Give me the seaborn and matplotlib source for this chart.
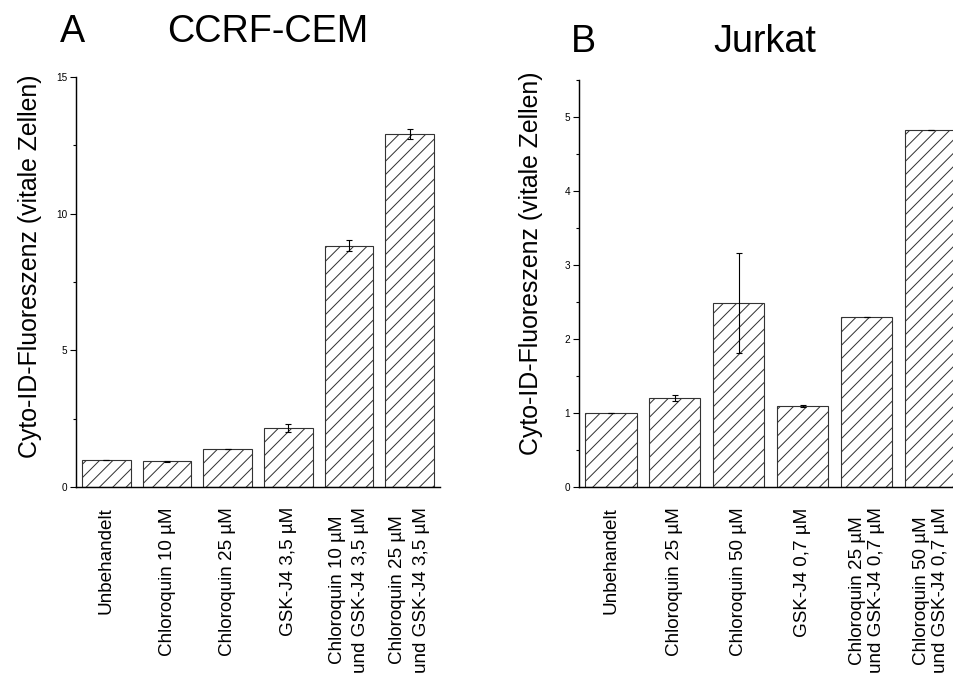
import matplotlib
matplotlib.use("Agg")
import matplotlib.pyplot as plt
import seaborn as sns
import pandas as pd
from matplotlib.ticker import MultipleLocator

sns.set_theme(style="white")
plt.rcParams['font.family'] = ['Liberation Sans', 'DejaVu Sans']
plt.rcParams['hatch.linewidth'] = 0.9
for k in ['text.color', 'axes.labelcolor', 'xtick.color', 'ytick.color']:
    plt.rcParams[k] = 'black'

# ---- data ----
cats_a = ["Unbehandelt", "Chloroquin 10 µM", "Chloroquin 25 µM", "GSK-J4 3,5 µM",
          "Chloroquin 10 µM\nund GSK-J4 3,5 µM", "Chloroquin 25 µM\nund GSK-J4 3,5 µM"]
vals_a = [1.0, 0.94, 1.38, 2.15, 8.82, 12.92]
err_a = [0.0, 0.02, 0.0, 0.15, 0.20, 0.17]

cats_b = ["Unbehandelt", "Chloroquin 25 µM", "Chloroquin 50 µM", "GSK-J4 0,7 µM",
          "Chloroquin 25 µM\nund GSK-J4 0,7 µM", "Chloroquin 50 µM\nund GSK-J4 0,7 µM"]
vals_b = [1.0, 1.21, 2.49, 1.10, 2.30, 4.82]
err_b = [0.0, 0.04, 0.68, 0.01, 0.0, 0.0]

ylabel = "Cyto-ID-Fluoreszenz (vitale Zellen)"

DPI = 80
W, H = 953, 678
fig = plt.figure(figsize=(W / DPI, H / DPI), dpi=DPI)

ax_a = fig.add_axes([76 / W, 1 - 487 / H, (440 - 76) / W, (487 - 77) / H])
ax_b = fig.add_axes([579 / W, 1 - 487.3 / H, (962.5 - 579) / W, (487.3 - 80) / H])


def draw(ax, cats, vals, errs, ylim, major, minor, linesp, lab_xy):
    df = pd.DataFrame({"cat": cats, "val": vals})
    sns.barplot(data=df, x="cat", y="val", ax=ax, color="white", width=0.8,
                errorbar=None, edgecolor="#333333", linewidth=1.0)
    for p in ax.patches:
        p.set_hatch("//")
    ax.errorbar(range(len(vals)), vals, yerr=errs, fmt="none", ecolor="black",
                elinewidth=1.0, capsize=3, capthick=1.0)
    ax.set_xlim(-0.5, len(vals) - 0.5)
    ax.set_ylim(*ylim)
    ax.yaxis.set_major_locator(MultipleLocator(major))
    ax.yaxis.set_minor_locator(MultipleLocator(minor))
    for s in ["top", "right"]:
        ax.spines[s].set_visible(False)
    for s in ["left", "bottom"]:
        ax.spines[s].set_color("black")
        ax.spines[s].set_linewidth(1.3)
    ax.tick_params(axis="y", which="major", left=True, length=5, width=1.0,
                   direction="out", labelsize=9, pad=3, colors="black")
    ax.tick_params(axis="y", which="minor", left=True, length=3, width=1.0,
                   direction="out", colors="black")
    ax.tick_params(axis="x", bottom=False, pad=12)
    ax.set_xticks(range(len(cats)))
    ax.set_xticklabels(cats, rotation=90, fontsize=17, linespacing=linesp,
                       ha="center", va="top", multialignment="center")
    ax.set_xlabel("")
    ax.set_ylabel(ylabel, fontsize=22.4)
    ax.yaxis.set_label_coords(*lab_xy)
    ax.grid(False)


draw(ax_a, cats_a, vals_a, err_a, (0, 15), 5, 2.5, 1.5, (-0.094, 0.538))
draw(ax_b, cats_b, vals_b, err_b, (0, 5.5), 1, 0.5, 1.15, (-0.094, 0.549))

fig.text(60 / W, 1 - 41.7 / H, "A", fontsize=34, va="baseline", ha="left")
fig.text(167 / W, 1 - 41.7 / H, "CCRF-CEM", fontsize=34, va="baseline", ha="left")
fig.text(571 / W, 1 - 52 / H, "B", fontsize=34, va="baseline", ha="left")
fig.text(713 / W, 1 - 52 / H, "Jurkat", fontsize=34, va="baseline", ha="left")

fig.savefig("out.png", dpi=DPI, facecolor="white")
